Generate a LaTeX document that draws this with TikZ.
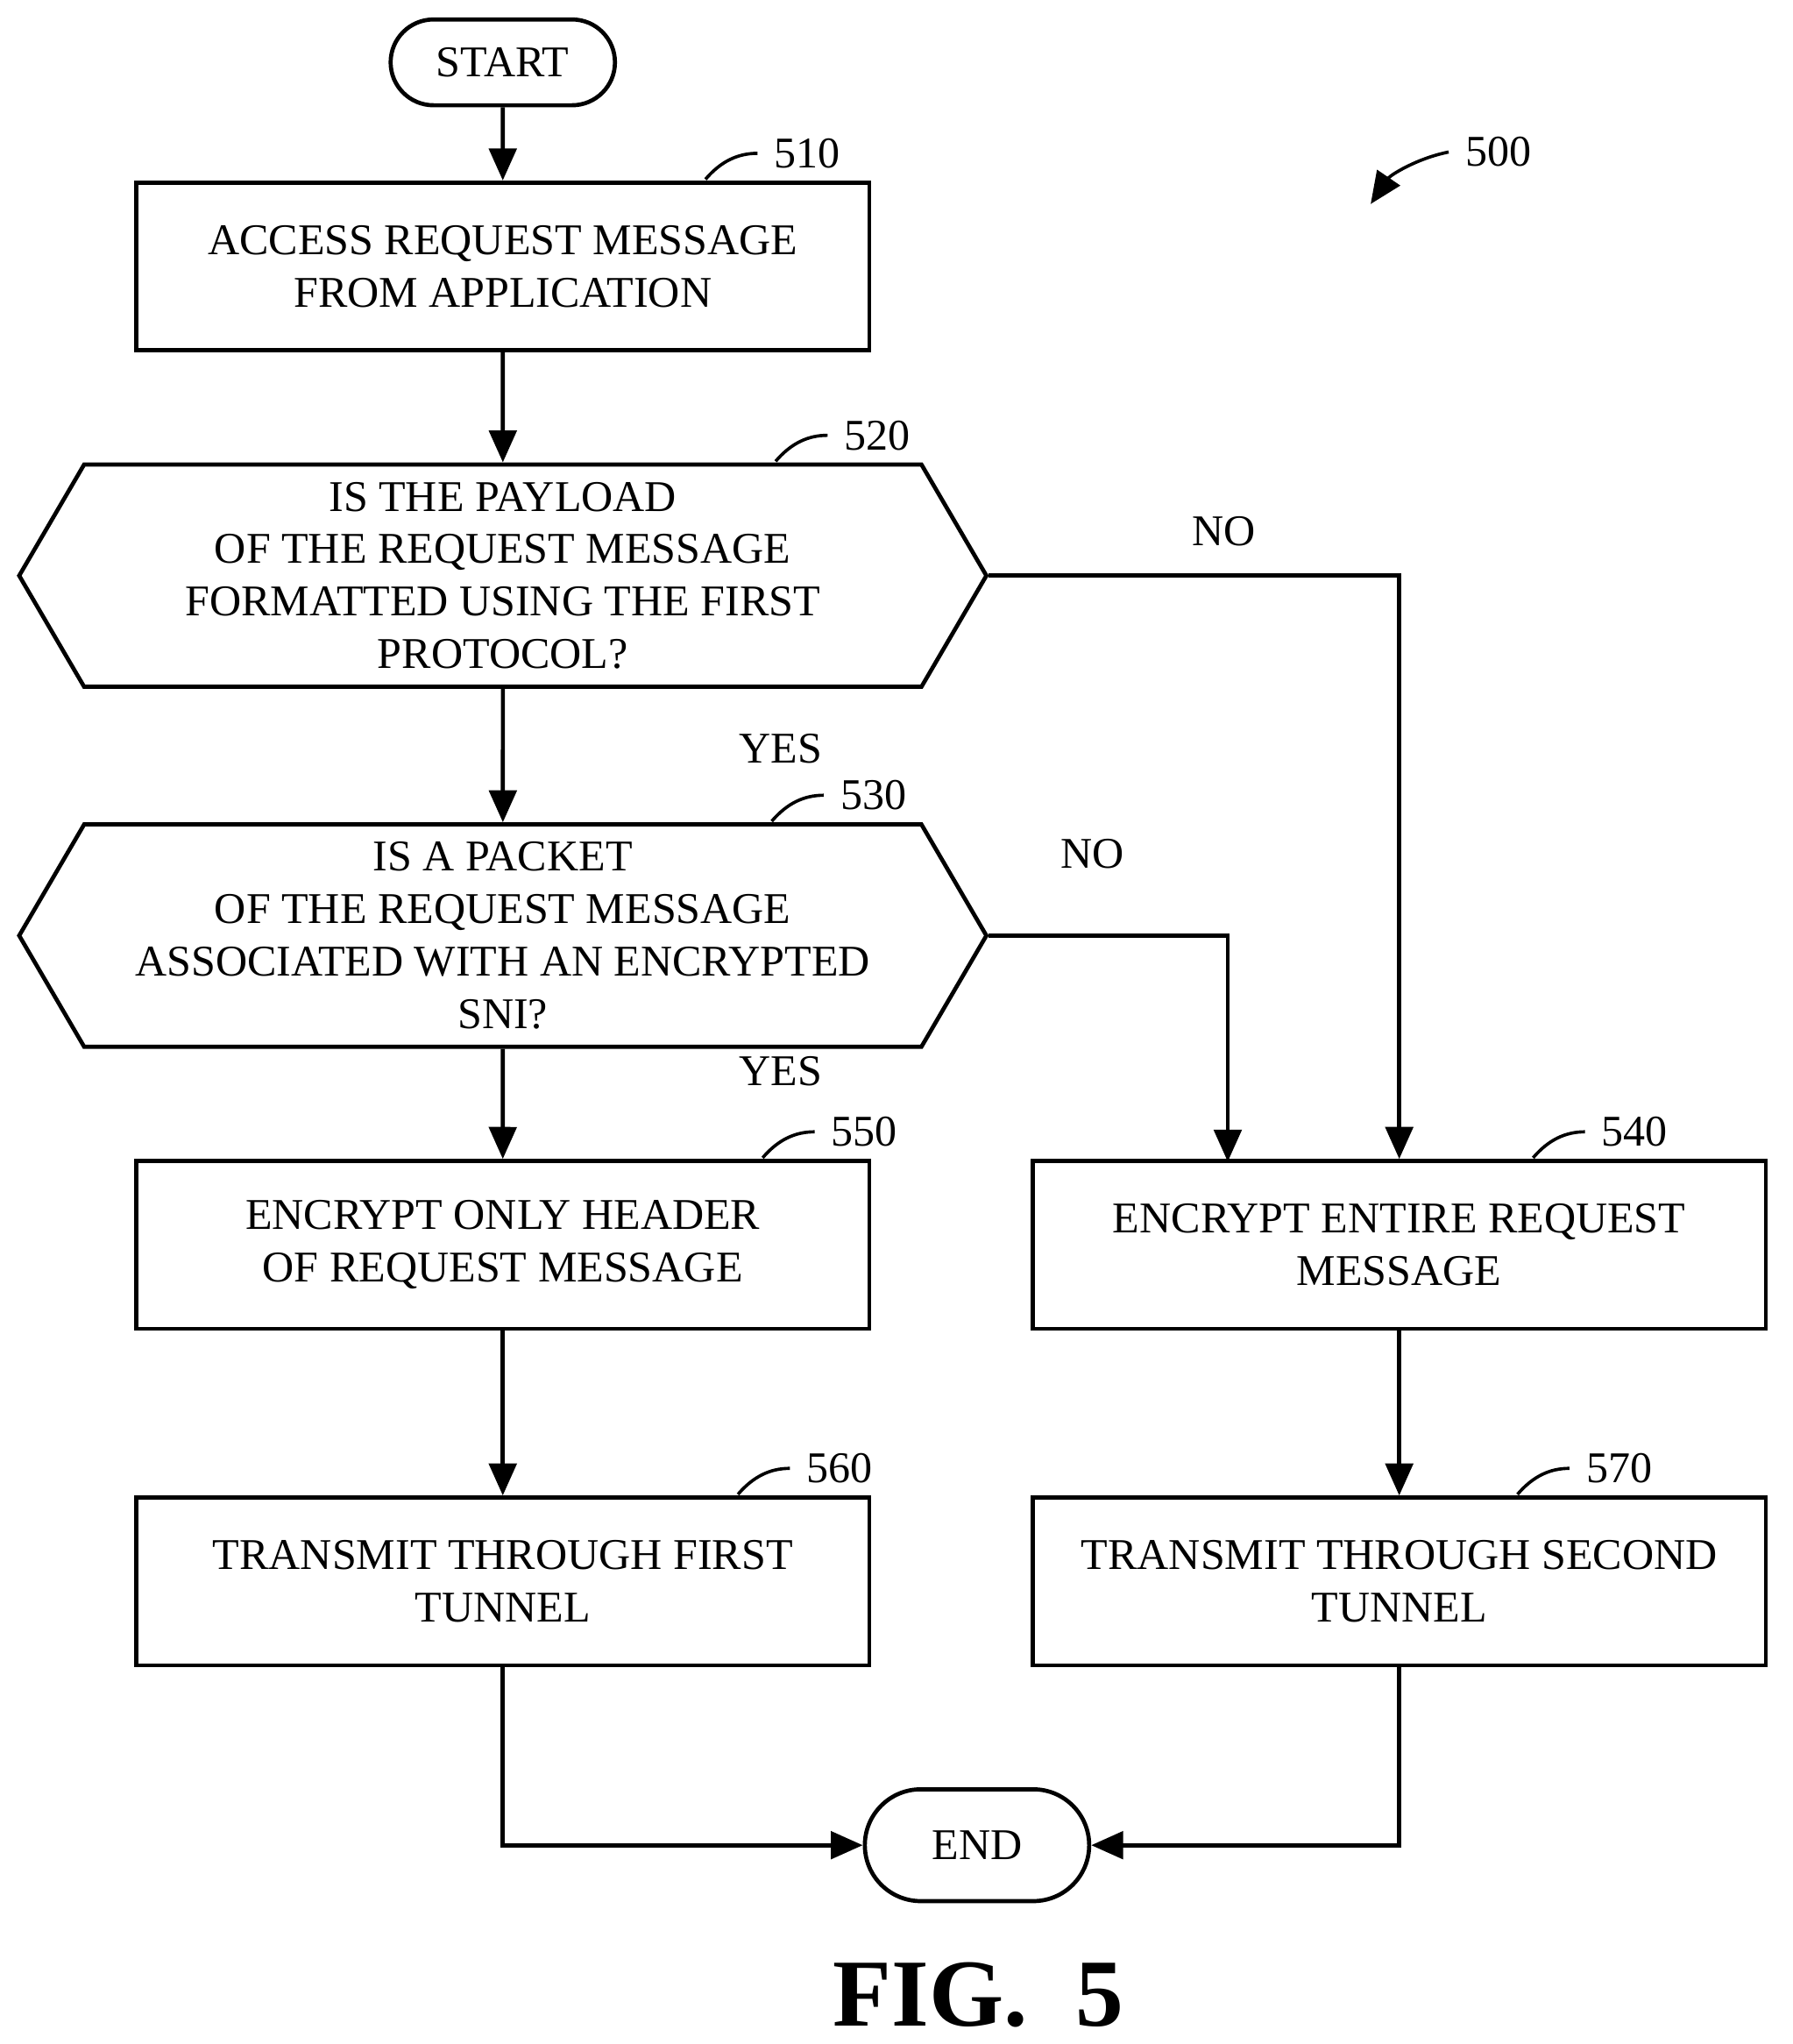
\documentclass[tikz,border=0pt]{standalone}
\usepackage{fontspec}
\setmainfont{Liberation Serif}
\usetikzlibrary{shapes.symbols,shapes.misc,arrows.meta}
\begin{document}
\begin{tikzpicture}[
    x=0.01cm, y=-0.01cm,
    font=\fontsize{9.6}{11.5}\selectfont,
    line width=0.9pt,
    >={Triangle[length=7pt,width=6pt]},
    term/.style={draw, rounded rectangle, minimum width=1.96cm, minimum height=0.66cm},
    procbox/.style={draw, minimum width=5.64cm, minimum height=1.29cm, align=center},
    test/.style={draw, signal, signal to=east and west, signal pointer angle=119.4,
        minimum width=7.44cm, minimum height=1.71cm, inner xsep=0pt, align=center},
    ref/.style={anchor=west}
]
    \useasboundingbox (0,0) rectangle (1380,1573);

    % --- Nodes ---
    \node[term] (start) at (387,48) {START};
    \node[procbox] (s510) at (387,205) {ACCESS REQUEST MESSAGE\\FROM APPLICATION};
    \node[test] (s520) at (387,443) {IS THE PAYLOAD\\OF THE REQUEST MESSAGE\\FORMATTED USING THE FIRST\\PROTOCOL?};
    \node[test] (s530) at (387,720) {IS A PACKET\\OF THE REQUEST MESSAGE\\ASSOCIATED WITH AN ENCRYPTED\\SNI?};
    \node[procbox] (s550) at (387,958) {ENCRYPT ONLY HEADER\\OF REQUEST MESSAGE};
    \node[procbox] (s540) at (1077,958) {ENCRYPT ENTIRE REQUEST\\MESSAGE};
    \node[procbox] (s560) at (387,1217) {TRANSMIT THROUGH FIRST\\TUNNEL};
    \node[procbox] (s570) at (1077,1217) {TRANSMIT THROUGH SECOND\\TUNNEL};
    \node[term, minimum height=0.86cm] (end) at (752,1420) {END};

    % --- Connectors ---
    \draw[->] (start) -- (s510);
    \draw[->] (s510) -- (s520);
    \draw[->] (s520) -- node[pos=0.45, right=48pt] (yes1) {YES} (s530);
    \draw[->] (s530) -- node[pos=0.2, right=48pt] (yes2) {YES} (s550);
    \draw[->] (s520.east) -| (s540.north);
    \coordinate (j540) at (945,894);
    \draw[->] (s530.east) -| (j540);
    \node (no1) at (942,409) {NO};
    \node (no2) at (841,657) {NO};
    \draw[->] (s550) -- (s560);
    \draw[->] (s540) -- (s570);
    \draw[->] (s560.south) |- (end.west);
    \draw[->] (s570.south) |- (end.east);

    % --- Reference numerals ---
    \foreach \num/\x/\y in {510/543/138, 520/597/355, 530/594/632, 550/587/891, 540/1180/891, 560/568/1150, 570/1168/1150} {
        \draw[line width=0.7pt] (\x,\y) .. controls (\x+12,\y-14) and (\x+25,\y-20) .. (\x+40,\y-20)
            node[ref] (r\num) {\num};
    }
    \node[ref] (r500) at (1115,117) {500};
    \draw[->, line width=0.7pt] (r500.west) .. controls (1090,122) and (1070,135) .. (1055,157);

    \node[font=\fontsize{21}{25}\bfseries\selectfont] (fig) at (753,1535) {FIG.~~5};
\end{tikzpicture}
\end{document}
